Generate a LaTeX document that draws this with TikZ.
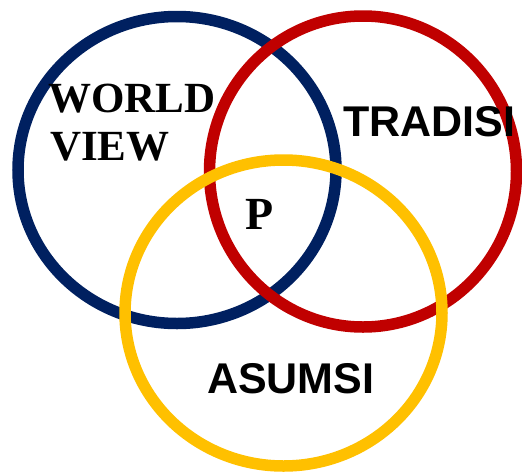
\documentclass[tikz,border=0pt]{standalone}
\usepackage{fontspec}
\setmainfont{Liberation Serif}
\newfontfamily\arialf{Liberation Sans}
\definecolor{navyc}{HTML}{002060}
\definecolor{redc}{HTML}{C00000}
\definecolor{yellowc}{HTML}{FFC000}
\tikzset{
  ring/.style={line width=11.5pt},
  serifbig/.style={font=\fontsize{43}{50}\selectfont\bfseries, anchor=base west, inner sep=0pt},
  sansbig/.style={font=\arialf\fontsize{43}{50}\selectfont\bfseries, anchor=base west, inner sep=0pt},
}
\begin{document}
\begin{tikzpicture}[x=1pt,y=-1pt]
\useasboundingbox (0,0) rectangle (522,472);
\draw[ring, navyc] (177,170) ellipse [x radius=159, y radius=153.5];
\draw[ring, redc] (363,171.5) ellipse [x radius=153.5, y radius=155.5];
\draw[ring, yellowc] (283.5,313) ellipse [x radius=158.5, y radius=153];
\node[serifbig] (world) at (48,112) {WORLD};
\node[serifbig] (view) at (50,160) {VIEW};
\node[sansbig] (tradisi) at (343,136) {TRADISI};
\node[sansbig] (asumsi) at (207,393) {ASUMSI};
\node[serifbig, font=\fontsize{46}{50}\selectfont\bfseries] (p) at (245,229) {P};
\end{tikzpicture}
\end{document}
